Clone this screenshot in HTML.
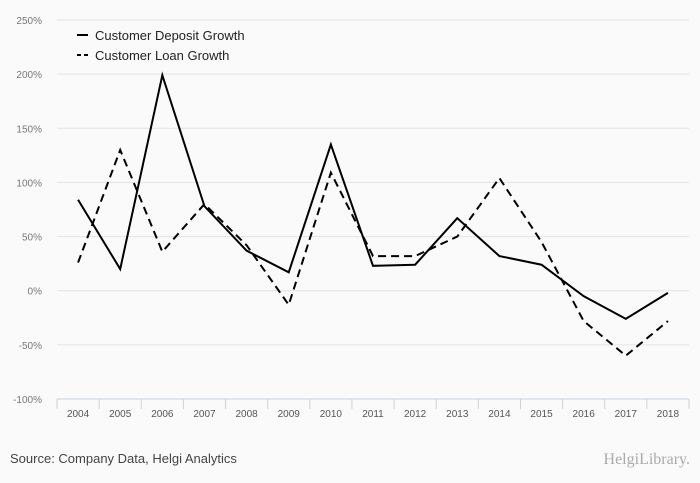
<!DOCTYPE html>
<html><head><meta charset="utf-8"><style>
body{margin:0;background:#fafafa;font-family:"Liberation Sans",sans-serif;}
svg{display:block}
</style></head><body>
<svg id="c" width="700" height="483">
<rect width="700" height="483" fill="#fafafa"/>
<g id="grid"></g><g id="axes"></g><g id="lines"></g>
<g>
<line x1="77" y1="35" x2="88" y2="35" stroke="#000" stroke-width="2"/>
<text x="95" y="40" font-size="13" fill="#222">Customer Deposit Growth</text>
<line x1="77" y1="55" x2="88" y2="55" stroke="#000" stroke-width="2" stroke-dasharray="4,3"/>
<text x="95" y="60" font-size="13" fill="#222">Customer Loan Growth</text>
</g>
<text x="10" y="463" font-size="13" fill="#444">Source: Company Data, Helgi Analytics</text>
<text x="690" y="464" font-size="16" fill="#aaa" text-anchor="end" font-family="Liberation Serif,serif">HelgiLibrary.</text>
</svg>
<script>
const years=["2004","2005","2006","2007","2008","2009","2010","2011","2012","2013","2014","2015","2016","2017","2018"];
const deposit=[84,20,199,78,37,17,135,23,24,67,32,24,-5,-26,-2];
const loan=[26,130,36,80,42,-13,109,32,32,50,104,45,-28,-60,-28];
const yTicks=[-100,-50,0,50,100,150,200,250];
const NS="http://www.w3.org/2000/svg";
const x0=57,x1=689,yTop=20,yBot=399;
const step=(x1-x0)/years.length;
const X=i=>x0+step*(i+0.5);
const Y=v=>yBot-(v+100)/350*(yBot-yTop);
function mk(t,a,p){const e=document.createElementNS(NS,t);for(const k in a)e.setAttribute(k,a[k]);p.appendChild(e);return e;}
const g=document.getElementById('grid'),ax=document.getElementById('axes'),ln=document.getElementById('lines');
yTicks.forEach(v=>{
 if(v>-100){const l=mk('line',{x1:x0,x2:x1,y1:Y(v),y2:Y(v),stroke:'#e3e3e3'},g);
 
 }
 const t=mk('text',{x:42,y:Y(v)+4,'font-size':10,fill:'#777','text-anchor':'end'},ax);t.textContent=v+'%';
 
 
});
const base=mk('line',{x1:x0,x2:x1,y1:yBot,y2:yBot,stroke:'#c8d3e0'},ax);


years.forEach((yr,i)=>{
 const tk=mk('line',{x1:x0+step*i,x2:x0+step*i,y1:yBot,y2:yBot+10,stroke:'#c8d3e0'},ax);
 
 
 const t=mk('text',{x:X(i),y:417,'font-size':10,fill:'#555','text-anchor':'middle'},ax);t.textContent=yr;
 
 
});
const tk=mk('line',{x1:x1,x2:x1,y1:yBot,y2:yBot+10,stroke:'#c8d3e0'},ax);


const p1=mk('polyline',{points:deposit.map((v,i)=>X(i)+','+Y(v)).join(' '),fill:'none',stroke:'#000','stroke-width':2},ln);


const p2=mk('polyline',{points:loan.map((v,i)=>X(i)+','+Y(v)).join(' '),fill:'none',stroke:'#000','stroke-width':2,'stroke-dasharray':'8,5'},ln);


</script>
</body></html>
